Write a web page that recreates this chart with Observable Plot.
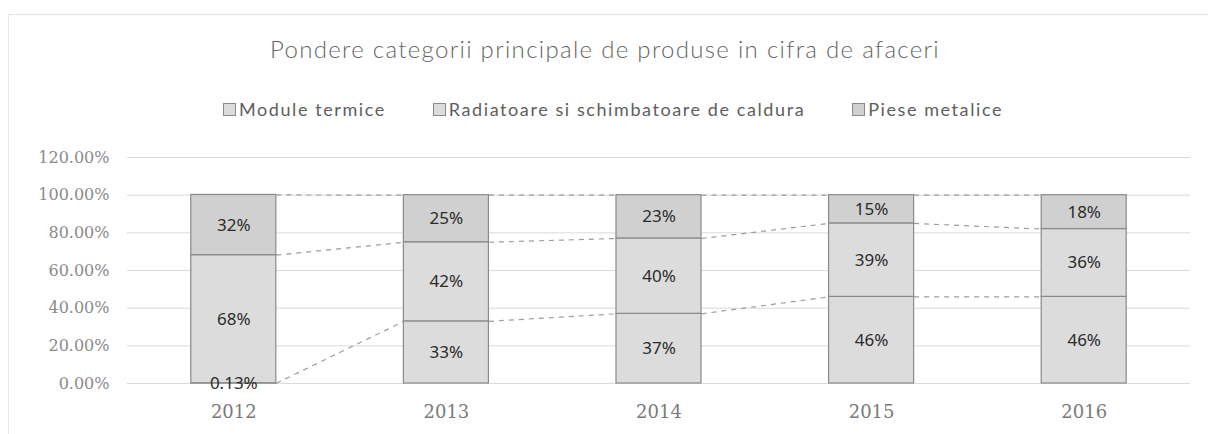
<!DOCTYPE html>
<html>
<head>
<meta charset="utf-8">
<script src="https://cdn.jsdelivr.net/npm/d3@7"></script>
<script src="https://cdn.jsdelivr.net/npm/@observablehq/plot@0.6"></script>
<style>
  html, body { margin: 0; padding: 0; background: #fff; }
  body { width: 1208px; height: 434px; overflow: hidden; position: relative; }
  #frame { position: absolute; left: 8px; top: 14px; width: 1210px; height: 440px;
           border-top: 1px solid #e0e0e0; border-left: 1px solid #e6e6e6; }
  #title { position: absolute; left: 270px; top: 37px; white-space: nowrap;
           font-family: Lato, sans-serif; font-weight: 300; font-size: 24px; line-height: 24px; color: #666; }
  #legend { position: absolute; left: 223px; top: 100px; display: flex; align-items: center; white-space: nowrap;
            font-family: Lato, sans-serif; font-size: 18px; line-height: 18px; color: #5e5e5e; }
  .item { display: flex; align-items: center; }
  .item + .item { margin-left: 47px; }
  .sw { width: 11px; height: 11px; border: 1px solid #8a8a8a; margin-right: 3px; box-sizing: content-box; }
  #chart { position: absolute; left: 0; top: 120px; }
</style>
</head>
<body>
<div id="frame"></div>
<div id="title"></div>
<div id="legend"></div>
<div id="chart"></div>
<script>
// ---- data ----
const titleText = "Pondere categorii principale de produse in cifra de afaceri";
const years = ["2012", "2013", "2014", "2015", "2016"];
const seriesNames = ["Module termice", "Radiatoare si schimbatoare de caldura", "Piese metalice"];
const moduleTermice = [0.0013, 0.33, 0.37, 0.46, 0.46];
const radiatoare = [0.68, 0.42, 0.40, 0.39, 0.36];
const pieseMetalice = [0.32, 0.25, 0.23, 0.15, 0.18];
const yTicks = [0, 0.2, 0.4, 0.6, 0.8, 1.0, 1.2];
const seriesFills = ["#dcdcdc", "#dcdcdc", "#d0d0d0"];

// ---- title & legend ----
const titleEl = document.getElementById("title");
titleEl.textContent = titleText;
function fitSpacing(el, target, nChars) {
  el.style.letterSpacing = "0px";
  const w = el.getBoundingClientRect().width;
  el.style.letterSpacing = ((target - w) / nChars) + "px";
}
fitSpacing(titleEl, 670, titleText.length);

const legendEl = document.getElementById("legend");
seriesNames.forEach((name, k) => {
  const it = document.createElement("div");
  it.className = "item";
  const sw = document.createElement("div");
  sw.className = "sw";
  sw.style.background = seriesFills[k];
  const tx = document.createElement("span");
  tx.textContent = name;
  it.appendChild(sw); it.appendChild(tx);
  legendEl.appendChild(it);
});
fitSpacing(legendEl, 780, seriesNames.join("").length);

// ---- stacked rows ----
const valuesBySeries = [moduleTermice, radiatoare, pieseMetalice];
const rows = [];
const tops = valuesBySeries.map(() => []);
years.forEach((yr, i) => {
  let cum = 0;
  valuesBySeries.forEach((vals, s) => {
    const v = vals[i];
    rows.push({i, year: yr, series: seriesNames[s], y1: cum, y2: cum + v, v});
    cum += v;
    tops[s].push(cum);
  });
});
const links = [];
tops.forEach((t, s) => {
  for (let i = 0; i < years.length - 1; i++) {
    links.push({x1: i + 0.2, x2: i + 1 - 0.2, y1: t[i], y2: t[i + 1]});
  }
});
const fmtLabel = v => v < 0.01 ? (v * 100).toFixed(2) + "%" : Math.round(v * 100) + "%";

const plot = Plot.plot({
  width: 1208,
  height: 314,
  marginLeft: 127,
  marginRight: 18,
  marginTop: 37,
  marginBottom: 51,
  style: {fontFamily: "'DejaVu Serif', serif", background: "transparent", overflow: "visible"},
  x: {domain: [-0.5, years.length - 0.5]},
  y: {domain: [0, 1.2]},
  marks: [
    Plot.ruleY(yTicks, {stroke: "#dadada", strokeWidth: 1}),
    Plot.link(links, {x1: "x1", x2: "x2", y1: "y1", y2: "y2", stroke: "#9c9c9c", strokeWidth: 1.2, strokeDasharray: "5,5"}),
    Plot.rect(rows, {x1: d => d.i - 0.2, x2: d => d.i + 0.2, y1: "y1", y2: "y2",
                     fill: d => seriesFills[seriesNames.indexOf(d.series)], stroke: "#8a8a8a", strokeWidth: 1.2}),
    Plot.text(rows, {x: "i", y: d => (d.y1 + d.y2) / 2, text: d => fmtLabel(d.v),
                     fontFamily: "'Noto Sans', sans-serif", fontSize: 17, fill: "#2b2b2b"}),
    Plot.axisY({ticks: yTicks, tickFormat: d3.format(".2%"), tickSize: 0, tickPadding: 18,
                fontSize: 16, fill: "#8a8a8a", label: null}),
    Plot.axisX({ticks: d3.range(years.length), tickFormat: i => years[i], tickSize: 0, tickPadding: 22,
                fontSize: 18, fill: "#7a7a7a", label: null})
  ]
});
document.getElementById("chart").appendChild(plot);
</script>
</body>
</html>
